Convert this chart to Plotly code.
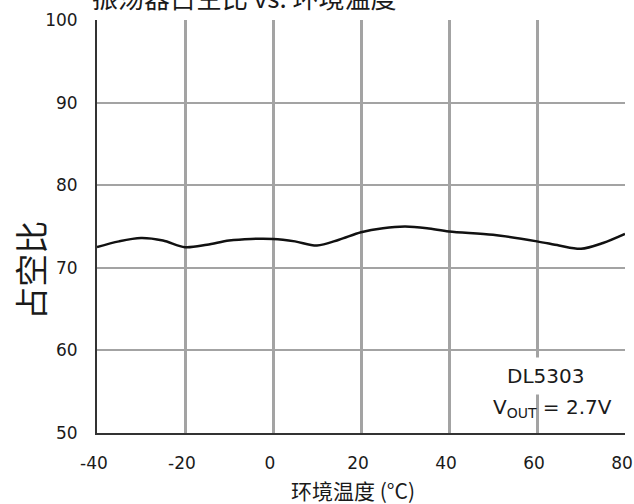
import plotly.graph_objects as go

# Ambient temperature (°C) and measured duty cycle (%)
temperature = [-40, -35, -30, -25, -20, -15, -10, -5, 0, 5, 10, 15, 20, 25, 30, 35, 40, 50, 60, 65, 70, 75, 80]
duty_cycle = [72.5, 73.2, 73.6, 73.3, 72.5, 72.8, 73.3, 73.5, 73.5, 73.2, 72.7, 73.4, 74.3, 74.8, 75.0, 74.8, 74.4, 74.0, 73.2, 72.7, 72.3, 73.0, 74.1]

x_ticks = [-40, -20, 0, 20, 40, 60, 80]
y_ticks = [50, 60, 70, 80, 90, 100]

title_text = "振荡器占空比 vs. 环境温度"
x_title = "环境温度 (°C)"
y_title = "占空比"
part_label = "DL5303"
cond_label = "V<sub>OUT</sub> = 2.7V"

TICK_FONT = dict(family="DejaVu Sans", size=17, color="#1a1a1a")
CJK = "Noto Sans CJK SC"

fig = go.Figure()
fig.add_trace(go.Scatter(
    x=temperature, y=duty_cycle, mode="lines",
    line=dict(color="#111111", width=2.5, shape="spline", smoothing=0.9),
    showlegend=False, hoverinfo="skip",
))

fig.update_layout(
    width=634, height=504,
    margin=dict(l=97, r=9, t=20, b=71, autoexpand=False),
    paper_bgcolor="white", plot_bgcolor="white",
    xaxis=dict(
        range=[-40, 80], tickvals=x_ticks, ticktext=[str(v) for v in x_ticks],
        showgrid=True, gridcolor="#a3a3a3", gridwidth=2.5,
        showline=True, linecolor="#333333", linewidth=2,
        zeroline=False, tickfont=TICK_FONT, ticks="", ticklabelstandoff=14,
        ticklabeloverflow="allow", ticklabelshift=-3, automargin=False,
    ),
    yaxis=dict(
        range=[50, 100], tickvals=y_ticks, ticktext=[str(v) for v in y_ticks],
        showgrid=True, gridcolor="#a3a3a3", gridwidth=2,
        showline=True, linecolor="#333333", linewidth=2,
        zeroline=False, tickfont=TICK_FONT, ticks="", ticklabelstandoff=14,
        automargin=False,
    ),
    annotations=[
        dict(text=title_text, xref="paper", yref="paper", x=-0.013, y=1.058,
             xanchor="left", yanchor="middle", showarrow=False,
             font=dict(family=CJK, size=26, color="#1a1a1a")),
        dict(text=x_title, xref="paper", yref="paper", x=0.485, y=-0.137,
             xanchor="center", yanchor="middle", showarrow=False,
             font=dict(family=CJK, size=21, color="#1a1a1a")),
        dict(text=y_title, xref="paper", yref="paper", x=-0.127, y=0.395,
             xanchor="center", yanchor="middle", showarrow=False, textangle=-90,
             font=dict(family=CJK, size=33, color="#1a1a1a")),
        dict(text=part_label, x=62, y=56.9, xref="x", yref="y",
             xanchor="center", yanchor="middle", showarrow=False,
             bgcolor="white", borderpad=6,
             font=dict(family="DejaVu Sans", size=20, color="#1a1a1a")),
        dict(text=cond_label, x=63.5, y=53.0, xref="x", yref="y",
             xanchor="center", yanchor="middle", showarrow=False,
             font=dict(family="DejaVu Sans", size=20, color="#1a1a1a")),
    ],
)

fig.write_html("out.html")
